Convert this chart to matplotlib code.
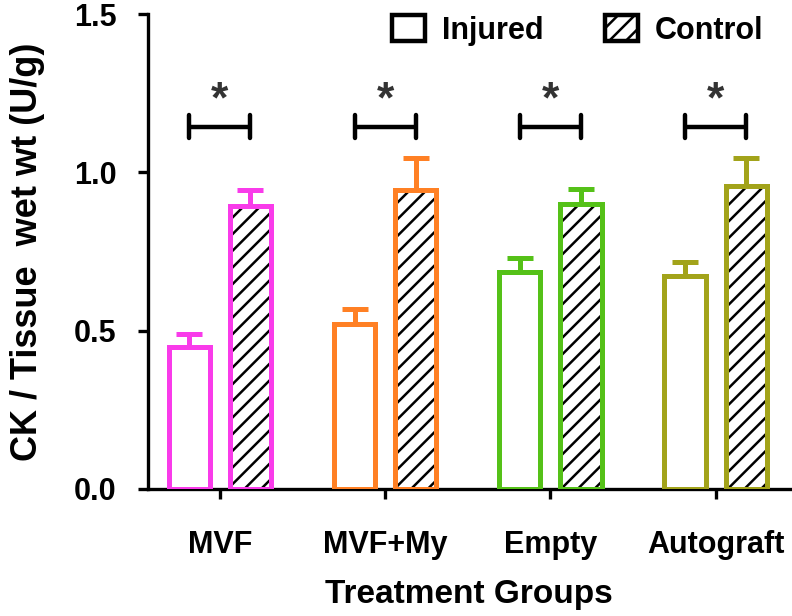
import matplotlib
matplotlib.use("Agg")
import matplotlib.pyplot as plt
import numpy as np
from matplotlib.patches import Patch

groups = ["MVF", "MVF+My", "Empty", "Autograft"]
injured = [0.45, 0.52, 0.685, 0.672]
injured_err = [0.04, 0.048, 0.045, 0.046]
control = [0.895, 0.945, 0.90, 0.958]
control_err = [0.05, 0.10, 0.048, 0.087]
colors = ["#F93BEA", "#FF8024", "#55C118", "#A2A31A"]
yticks = [0.0, 0.5, 1.0, 1.5]

plt.rcParams['font.family'] = ['Liberation Sans', 'DejaVu Sans']
plt.rcParams['font.weight'] = 'bold'
plt.rcParams['hatch.linewidth'] = 1.8

fig = plt.figure(figsize=(7.92, 6.16), dpi=100)
ax = fig.add_axes([148/792, 1-489/616, (790-148)/792, (489-14)/616])

x = np.arange(len(groups))
off = 0.185
w = 0.25
lw = 3.6
for i in range(len(groups)):
    c = colors[i]
    ax.bar(x[i]-off, injured[i], width=w, facecolor='white', edgecolor=c, linewidth=lw, zorder=3)
    # hatch layer (black) then coloured outline
    ax.bar(x[i]+off, control[i], width=w, facecolor='white', edgecolor='black', linewidth=0, hatch='//', zorder=3)
    ax.bar(x[i]+off, control[i], width=w, facecolor='none', edgecolor=c, linewidth=lw, zorder=4)
    ax.errorbar([x[i]-off], [injured[i]], yerr=[[0], [injured_err[i]]], fmt='none', ecolor=c,
                elinewidth=lw, capsize=9.5, capthick=lw, zorder=2)
    ax.errorbar([x[i]+off], [control[i]], yerr=[[0], [control_err[i]]], fmt='none', ecolor=c,
                elinewidth=lw, capsize=9.5, capthick=lw, zorder=2)
    # significance bracket
    yb = 1.143
    ax.plot([x[i]-off, x[i]+off], [yb, yb], color='black', lw=3.2, solid_capstyle='butt', zorder=5)
    for xe in (x[i]-off, x[i]+off):
        ax.plot([xe, xe], [1.108, 1.181], color='black', lw=3.2, solid_capstyle='round', zorder=5)
    ax.text(x[i], 1.225, "*", ha='center', va='center', fontsize=32, fontweight='bold', color='#333333')

ax.set_xlim(-0.435, 3.45)
ax.set_ylim(0, 1.5)
ax.set_yticks(yticks)
ax.set_yticklabels([f"{v:.1f}" for v in yticks])
ax.set_xticks(x)
ax.set_xticklabels(groups)
for s in ['top', 'right']:
    ax.spines[s].set_visible(False)
for s in ['left', 'bottom']:
    ax.spines[s].set_linewidth(2.4)
ax.tick_params(axis='both', width=2.4, length=7.5, labelsize=22, direction='out')
ax.tick_params(axis='x', pad=22)
ax.tick_params(axis='y', pad=15)
for lab in ax.get_xticklabels() + ax.get_yticklabels():
    lab.set_fontweight('bold')

ax.set_xlabel("Treatment Groups", fontsize=24, fontweight='bold', labelpad=14)
ax.set_ylabel("CK / Tissue  wet wt (U/g)", fontsize=26, fontweight='bold', labelpad=21)

handles = [Patch(facecolor='white', edgecolor='black', linewidth=3.2, label='Injured'),
           Patch(facecolor='white', edgecolor='black', linewidth=3.2, hatch='//', label='Control')]
leg = fig.legend(handles=handles, loc='upper right', bbox_to_anchor=(769/792, 1-9/616),
                 ncol=2, frameon=False, fontsize=22, handlelength=1.08, handleheight=0.92,
                 columnspacing=2.0, handletextpad=0.55, borderaxespad=0.0, borderpad=0.2)
for t in leg.get_texts():
    t.set_fontweight('bold')

fig.savefig("out.png", dpi=100)
